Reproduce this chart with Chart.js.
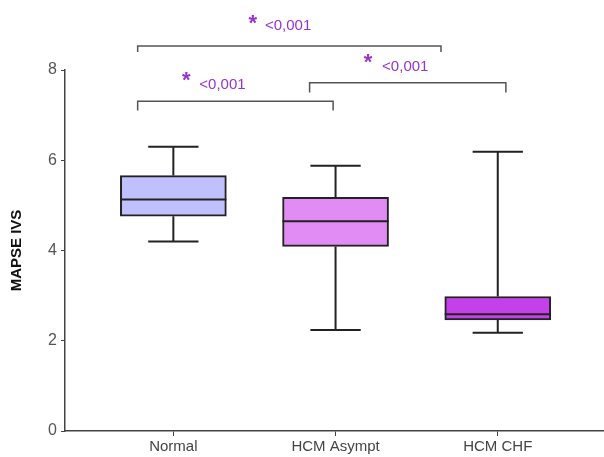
<!DOCTYPE html>
<html>
<head>
<meta charset="utf-8">
<script src="https://cdn.jsdelivr.net/npm/chart.js@4.4.0/dist/chart.umd.min.js"></script>
<style>
  html, body { margin: 0; padding: 0; background: #fff; }
  #wrap { width: 604px; height: 457px; }
</style>
</head>
<body>
<div id="wrap"><canvas id="myChart"></canvas></div>
<script>
const categories = ["Normal", "HCM Asympt", "HCM CHF"];
const mins    = [4.20, 2.24, 2.18];
const q1s     = [4.76, 4.09, 2.46];
const medians = [5.13, 4.65, 2.59];
const q3s     = [5.66, 5.18, 2.98];
const maxs    = [6.30, 5.88, 6.19];
const yTicks  = [0, 2, 4, 6, 8];
const boxColors = ["#c0c0ff", "#e08cf4", "#c440e8"];

// significance brackets: [from category, to category, level, drop]
const brackets = [
  [-0.22, 1.65, 8.53, 8.40],
  [-0.22, 0.985, 7.31, 7.10],
  [0.84, 2.05, 7.72, 7.50]
];
// stars and p labels: [x of star, y of star, x of text, y of text, text]
const pLabels = [
  [0.49, 9.16, 0.565, 8.97, "<0,001"],
  [0.08, 7.90, 0.16, 7.68, "<0,001"],
  [1.20, 8.29, 1.287, 8.08, "<0,001"]
];

const ctx = document.getElementById("myChart").getContext("2d");

const whiskers = {
  id: "whiskers",
  afterDatasetsDraw(chart) {
    const x = chart.scales.x, y = chart.scales.y;
    const c = chart.ctx;
    c.save();
    c.strokeStyle = "#222";
    c.lineWidth = 2;
    categories.forEach((cat, i) => {
      const px = x.getPixelForValue(i);
      const capL = x.getPixelForValue(i - 0.155), capR = x.getPixelForValue(i + 0.155);
      const boxL = x.getPixelForValue(i - 0.327), boxR = x.getPixelForValue(i + 0.327);
      c.beginPath();
      c.moveTo(px, y.getPixelForValue(q3s[i]));
      c.lineTo(px, y.getPixelForValue(maxs[i]));
      c.moveTo(px, y.getPixelForValue(q1s[i]));
      c.lineTo(px, y.getPixelForValue(mins[i]));
      c.moveTo(capL, y.getPixelForValue(maxs[i]));
      c.lineTo(capR, y.getPixelForValue(maxs[i]));
      c.moveTo(capL, y.getPixelForValue(mins[i]));
      c.lineTo(capR, y.getPixelForValue(mins[i]));
      c.moveTo(boxL, y.getPixelForValue(medians[i]));
      c.lineTo(boxR, y.getPixelForValue(medians[i]));
      c.stroke();
    });
    c.restore();
  }
};

const significance = {
  id: "significance",
  afterDraw(chart) {
    const x = chart.scales.x, y = chart.scales.y;
    const c = chart.ctx;
    c.save();
    c.strokeStyle = "#555";
    c.lineWidth = 1.5;
    brackets.forEach(([a, b, lvl, drop]) => {
      c.beginPath();
      c.moveTo(x.getPixelForValue(a), y.getPixelForValue(drop));
      c.lineTo(x.getPixelForValue(a), y.getPixelForValue(lvl));
      c.lineTo(x.getPixelForValue(b), y.getPixelForValue(lvl));
      c.lineTo(x.getPixelForValue(b), y.getPixelForValue(drop));
      c.stroke();
    });
    c.fillStyle = "#9933cc";
    pLabels.forEach(([sx, sy, tx, ty, txt]) => {
      c.font = "bold 22px 'Liberation Sans', Arial, sans-serif";
      c.textAlign = "center";
      c.textBaseline = "alphabetic";
      c.fillText("*", x.getPixelForValue(sx), y.getPixelForValue(sy) + 12);
      c.font = "15px 'Liberation Sans', Arial, sans-serif";
      c.textAlign = "left";
      c.textBaseline = "middle";
      c.fillText(txt, x.getPixelForValue(tx), y.getPixelForValue(ty));
    });
    c.restore();
  }
};

const data = {
  datasets: [{
    data: categories.map((c, i) => ({ x: i, y: [q1s[i], q3s[i]] })),
    backgroundColor: boxColors,
    borderColor: "#222",
    borderWidth: 2,
    borderSkipped: false,
    barThickness: 106
  }]
};

const config = {
  type: "bar",
  data: data,
  plugins: [whiskers, significance],
  options: {
    responsive: true,
    maintainAspectRatio: false,
    animation: false,
    layout: { padding: { top: 70, left: 0, right: 0, bottom: 0 } },
    plugins: { legend: { display: false }, tooltip: { enabled: false } },
    scales: {
      x: {
        type: "linear",
        offset: false,
        min: -0.668,
        max: 2.655,
        afterBuildTicks: (scale) => { scale.ticks = categories.map((c, i) => ({ value: i })); },
        afterFit: (scale) => { scale.height = 26; },
        grid: { display: true, offset: false, drawOnChartArea: false, drawTicks: true, tickLength: 5, color: "#444" },
        border: { display: true, color: "#444", width: 1.5 },
        ticks: {
          color: "#444",
          padding: 2,
          maxRotation: 0,
          font: { family: "'Liberation Sans', Arial, sans-serif", size: 15 },
          callback: (v) => categories[v]
        }
      },
      y: {
        min: 0,
        max: 8,
        afterBuildTicks: (scale) => { scale.ticks = yTicks.map(v => ({ value: v })); },
        afterFit: (scale) => { scale.width = 65; },
        grid: { display: true, drawOnChartArea: false, drawTicks: true, tickLength: 4, color: "#444" },
        border: { display: true, color: "#444", width: 1.5 },
        ticks: {
          color: "#555",
          padding: 4,
          font: { family: "'Liberation Sans', Arial, sans-serif", size: 16 }
        },
        title: {
          display: true,
          text: "MAPSE IVS",
          color: "#111",
          padding: { top: 8, bottom: 0 },
          font: { family: "'Liberation Sans', Arial, sans-serif", size: 15, weight: "bold" }
        }
      }
    }
  }
};

const myChart = new Chart(ctx, config);
</script>
</body>
</html>
